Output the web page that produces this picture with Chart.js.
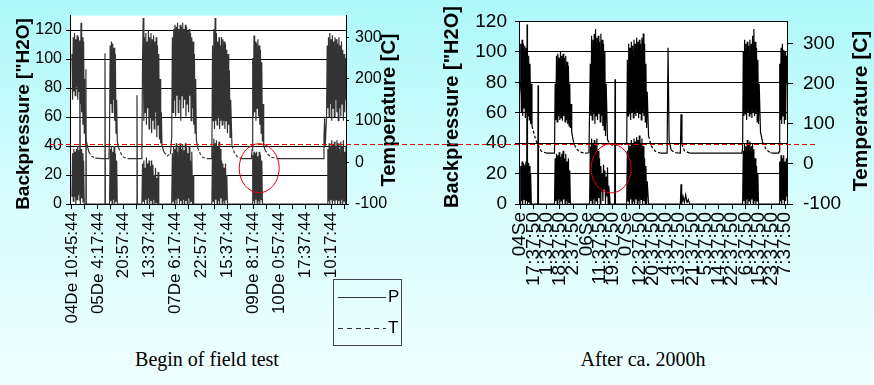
<!DOCTYPE html>
<html>
<head>
<meta charset="utf-8">
<script src="https://cdn.jsdelivr.net/npm/chart.js@4"></script>
<style>
  html, body { margin: 0; padding: 0; }
  body {
    width: 874px; height: 385px; position: relative; overflow: hidden;
    background: linear-gradient(to bottom, #adf8fa 0%, #d6fdfd 50%, #f0ffff 100%);
    font-family: Arial, "Liberation Sans", sans-serif;
  }
  canvas { position: absolute; top: 0; }
  #leftChart { left: 0; }
  #rightChart { left: 420px; }
  #refLine {
    position: absolute; left: 50px; top: 144px; width: 765px; height: 1px;
    background: repeating-linear-gradient(to right, #e00000 0 5px, transparent 5px 8px);
  }
  #legend {
    position: absolute; left: 333px; top: 279px; width: 69px; height: 67px;
    border: 1px solid #444; box-sizing: border-box;
  }
  #legend .row { position: absolute; left: 4px; height: 20px; display: flex; align-items: center; font-size: 17px; color: #000; }
  #legend .swatch { width: 48px; height: 1px; margin-right: 2px; }
  #legend .solid { background: #333; }
  #legend .dashed { background: repeating-linear-gradient(to right, #333 0 5px, transparent 5px 9px); }
  .caption {
    position: absolute; top: 348px; transform: translateX(-50%); white-space: nowrap;
    font: 20px "Times New Roman", "Liberation Serif", serif; color: #000;
  }
</style>
</head>
<body>
<canvas id="leftChart" width="420" height="345"></canvas>
<canvas id="rightChart" width="454" height="345"></canvas>
<div id="refLine"></div>
<div id="legend">
  <div class="row" style="top:7px"><span class="swatch solid"></span><span>P</span></div>
  <div class="row" style="top:38px"><span class="swatch dashed"></span><span>T</span></div>
</div>
<div class="caption" style="left:207px">Begin of field test</div>
<div class="caption" style="left:643px">After ca. 2000h</div>

<script>
// ---------------------------------------------------------------------
// data: x in tick steps, P in "H2O, T in C
// ---------------------------------------------------------------------
var LEFT_X_LABELS = ["04De 10:45:44", "05De 4:17:44", "20:57:44", "13:37:44", "07De 6:17:44", "22:57:44",
  "15:37:44", "09De 8:17:44", "10De 0:57:44", "17:37:44", "10:17:44"];
var RIGHT_X_LABELS = ["04Se", "17:37:50", "1:37:50", "18:37:50", "2:37:50", "06Se", "11:37:50", "19:37:50",
  "07Se", "12:37:50", "20:37:50", "4:37:50", "13:37:50", "21:37:50", "5:37:50", "14:37:50", "22:37:50",
  "6:37:50", "15:37:50", "23:37:50", "7:37:50"];
var P_TICKS = [0, 20, 40, 60, 80, 100, 120];
var T_TICKS = [-100, 0, 100, 200, 300];

var LEFT_P = [
  [0,5],[0.05,35],[0.1,2],[0.15,38],[0.2,5],[0.25,36],[0.3,0],[0.35,38],[0.4,3],[0.45,40],[0.5,6],[0.55,37],
  [0.6,2],[0.62,113],[0.65,0],[0.7,38],[0.75,4],[0.8,35],[0.85,1],[0.9,30],[0.95,0],
  [1.05,0],[1.08,93],[1.11,0],[2.52,0],[2.55,104],[2.58,0],
  [2.9,0],[2.95,38],[3.0,2],[3.05,40],[3.1,0],[3.15,36],[3.2,3],[3.25,40],[3.3,0],[3.35,35],[3.4,2],[3.45,30],[3.5,0],
  [4.99,0],[5.02,75],[5.05,0],
  [5.4,0],[5.45,28],[5.5,2],[5.55,30],[5.6,0],[5.65,25],[5.7,3],[5.75,32],[5.8,0],[5.85,28],[5.9,4],[5.95,30],
  [6.0,0],[6.05,26],[6.1,2],[6.15,30],[6.2,0],[6.25,27],[6.3,3],[6.35,20],[6.4,0],[6.45,25],[6.5,1],[6.55,18],
  [6.6,0],[6.65,22],[6.7,0],
  [7.7,0],[7.75,35],[7.8,2],[7.85,40],[7.9,0],[7.95,38],[8.0,3],[8.05,42],[8.1,0],[8.15,36],[8.2,4],[8.25,40],
  [8.3,0],[8.35,42],[8.4,2],[8.45,38],[8.5,0],[8.55,41],[8.6,3],[8.65,37],[8.7,0],[8.75,42],[8.8,2],[8.85,39],
  [8.9,0],[8.95,35],[9.0,4],[9.05,40],[9.1,0],[9.15,30],[9.2,2],[9.25,36],[9.3,0],[9.35,20],[9.4,0],
  [10.8,0],[10.85,40],[10.9,2],[10.95,45],[11.0,0],[11.05,42],[11.1,3],[11.15,44],[11.2,0],[11.25,40],[11.3,2],
  [11.35,43],[11.4,0],[11.45,38],[11.5,4],[11.55,30],[11.6,0],[11.65,28],[11.7,2],[11.75,25],[11.8,0],[11.85,28],
  [11.9,3],[11.95,20],[12.0,0],
  [13.9,0],[13.95,34],[14.0,2],[14.05,36],[14.1,0],[14.15,35],[14.2,3],[14.25,36],[14.3,0],[14.35,33],[14.4,2],
  [14.45,36],[14.5,0],[14.55,34],[14.6,3],[14.65,30],[14.7,0],
  [19.7,0],[19.75,38],[19.8,2],[19.85,42],[19.9,0],[19.95,40],[20.0,3],[20.05,44],[20.1,0],[20.15,41],[20.2,2],
  [20.25,43],[20.3,0],[20.35,40],[20.4,3],[20.45,44],[20.5,0],[20.55,42],[20.6,2],[20.65,38],[20.7,0],[20.75,43],
  [20.8,3],[20.85,40],[20.9,0],[20.95,44],[21.0,2],[21.05,36],[21.1,0],[21.15,40]
];

var LEFT_T = [
  [0,260],[0.05,150],[0.1,300],[0.15,170],[0.2,310],[0.25,160],[0.3,295],[0.35,180],[0.4,305],[0.45,150],
  [0.5,300],[0.55,170],[0.6,290],[0.65,140],[0.7,335],[0.75,120],[0.8,300],[0.85,90],[0.9,290],[0.95,70],
  [1.0,200],[1.05,55],[1.1,40],[1.15,45],[1.3,25],[1.5,15],[1.8,10],[2.35,9],
  [2.85,9],[2.9,60],[2.95,280],[3.0,140],[3.05,290],[3.1,120],[3.15,285],[3.2,150],[3.25,275],[3.3,100],
  [3.35,260],[3.4,70],[3.45,150],[3.5,50],[3.6,35],[3.8,20],[4.0,12],[4.3,9],[5.35,9],
  [5.4,40],[5.45,250],[5.5,346],[5.55,100],[5.6,300],[5.65,120],[5.7,310],[5.75,90],[5.8,290],[5.85,130],
  [5.9,318],[5.95,80],[6.0,300],[6.05,110],[6.1,310],[6.15,70],[6.2,295],[6.25,100],[6.3,305],[6.35,80],
  [6.4,290],[6.45,120],[6.5,300],[6.55,60],[6.6,280],[6.65,90],[6.7,260],[6.75,55],[6.8,200],[6.85,45],
  [6.9,120],[6.95,40],[7.1,25],[7.35,15],[7.6,20],
  [7.7,60],[7.75,300],[7.8,120],[7.85,320],[7.9,150],[7.95,330],[8.0,110],[8.05,325],[8.1,160],[8.15,335],
  [8.2,120],[8.25,320],[8.3,150],[8.35,330],[8.4,100],[8.45,325],[8.5,160],[8.55,335],[8.6,130],[8.65,320],
  [8.7,150],[8.75,330],[8.8,110],[8.85,325],[8.9,140],[8.95,315],[9.0,120],[9.05,320],[9.1,160],[9.15,310],
  [9.2,100],[9.25,300],[9.3,130],[9.35,290],[9.4,90],[9.45,260],[9.5,70],[9.55,200],[9.6,55],
  [9.7,35],[9.9,20],[10.1,12],[10.4,9],[10.75,9],
  [10.8,20],[10.85,280],[10.9,100],[10.95,320],[11.0,80],[11.05,346],[11.1,100],[11.15,310],[11.2,90],
  [11.25,290],[11.3,110],[11.35,300],[11.4,80],[11.45,280],[11.5,100],[11.55,300],[11.6,90],[11.65,295],
  [11.7,100],[11.75,290],[11.8,80],[11.85,285],[11.9,100],[11.95,270],[12.0,70],[12.05,260],[12.1,90],
  [12.15,220],[12.2,60],[12.25,150],[12.35,40],[12.55,22],[12.8,12],[13.1,9],[13.85,9],
  [13.9,30],[13.95,250],[14.0,110],[14.05,304],[14.1,120],[14.15,290],[14.2,100],[14.25,285],[14.3,130],
  [14.35,295],[14.4,110],[14.45,280],[14.5,90],[14.55,270],[14.6,70],[14.65,240],[14.7,50],[14.75,140],
  [14.8,40],[14.9,30],[15.1,20],[15.4,12],[15.8,9],[19.4,9],
  [19.45,60],[19.5,105],[19.55,40],[19.65,110],[19.7,280],[19.75,130],[19.8,300],[19.85,110],[19.9,310],
  [19.95,140],[20.0,295],[20.05,100],[20.1,305],[20.15,130],[20.2,290],[20.25,110],[20.3,300],[20.35,150],
  [20.4,295],[20.45,120],[20.5,285],[20.55,100],[20.6,300],[20.65,130],[20.7,280],[20.75,110],[20.8,290],
  [20.85,140],[20.9,270],[20.95,100],[21.0,260],[21.05,120],[21.1,250],[21.15,150]
];

var RIGHT_P = [
  [-0.08,0],[0,0],[0.05,25],[0.1,2],[0.15,28],[0.2,0],[0.25,27],[0.3,3],[0.35,26],[0.4,0],[0.45,28],[0.5,2],
  [0.53,118],[0.56,0],[0.6,27],[0.65,1],[0.7,25],[0.75,0],[0.8,20],[0.85,0],
  [1.33,0],[1.36,78],[1.39,0],
  [2.6,0],[2.65,30],[2.7,2],[2.75,33],[2.8,0],[2.85,32],[2.9,3],[2.95,34],[3.0,0],[3.05,31],[3.1,2],[3.15,33],
  [3.2,0],[3.25,35],[3.3,3],[3.35,30],[3.4,0],[3.45,33],[3.5,2],[3.55,28],[3.6,0],[3.65,30],[3.7,1],[3.75,22],
  [3.8,0],
  [5.25,0],[5.3,38],[5.35,2],[5.4,43],[5.45,0],[5.5,40],[5.55,3],[5.6,42],[5.65,0],[5.7,39],[5.75,2],[5.8,43],
  [5.85,0],[5.9,35],[5.95,4],[6.0,30],[6.05,0],[6.1,25],[6.15,8],[6.2,20],[6.25,2],[6.3,26],[6.35,10],[6.4,22],
  [6.45,0],[6.5,18],[6.55,5],[6.6,24],[6.65,0],[6.7,12],[6.8,0],
  [7.14,0],[7.17,82],[7.2,0],
  [8.05,0],[8.1,35],[8.15,2],[8.2,40],[8.25,0],[8.3,38],[8.35,3],[8.4,42],[8.45,0],[8.5,40],[8.55,2],[8.6,43],
  [8.65,0],[8.7,41],[8.75,3],[8.8,44],[8.85,0],[8.9,42],[8.95,2],[9.0,45],[9.05,0],[9.1,40],[9.15,3],[9.2,43],
  [9.25,0],[9.3,38],[9.35,2],[9.4,30],[9.45,0],[9.5,25],[9.55,0],[9.6,15],[9.7,0],
  [12.1,0],[12.15,13],[12.2,0],[12.3,5],[12.4,1],[12.5,6],[12.6,1],[12.7,3],[12.8,0],
  [16.8,0],[16.85,35],[16.9,2],[16.95,40],[17.0,0],[17.05,38],[17.1,3],[17.15,42],[17.2,0],[17.25,40],[17.3,2],
  [17.35,41],[17.4,0],[17.45,38],[17.5,3],[17.55,40],[17.6,0],[17.65,36],[17.7,2],[17.75,30],[17.8,0],[17.85,25],
  [17.9,2],[17.95,20],[18.0,0],
  [19.55,0],[19.6,28],[19.65,2],[19.7,32],[19.75,0],[19.8,30],[19.85,3],[19.9,32],[19.95,0],[20.0,28],[20.05,2],
  [20.1,30],[20.15,5]
];

var RIGHT_T = [
  [-0.08,150],[0,200],[0.05,300],[0.1,130],[0.15,310],[0.2,120],[0.25,300],[0.3,140],[0.35,295],[0.4,115],
  [0.45,290],[0.5,130],[0.55,280],[0.6,120],[0.65,270],[0.7,110],[0.75,250],[0.8,100],[0.85,200],[0.9,95],
  [1.1,70],[1.3,50],[1.6,32],[2.0,27],[2.6,27],
  [2.65,200],[2.7,110],[2.75,270],[2.8,105],[2.85,275],[2.9,120],[2.95,265],[3.0,110],[3.05,280],[3.1,115],
  [3.15,270],[3.2,108],[3.25,275],[3.3,120],[3.35,265],[3.4,105],[3.45,270],[3.5,110],[3.55,255],[3.6,100],
  [3.65,245],[3.7,95],[3.75,200],[3.8,90],[3.85,150],[3.9,80],[4.0,60],[4.2,40],[4.5,30],[4.9,27],[5.2,28],
  [5.3,250],[5.35,120],[5.4,320],[5.45,110],[5.5,310],[5.55,125],[5.6,325],[5.65,100],[5.7,337],[5.75,120],
  [5.8,315],[5.85,110],[5.9,320],[5.95,125],[6.0,305],[6.05,105],[6.1,325],[6.15,120],[6.2,310],[6.25,95],
  [6.3,300],[6.35,85],[6.4,280],[6.45,70],[6.5,200],[6.6,60],[6.8,50],[7.1,45],[7.4,50],[7.8,48],
  [8.05,50],[8.1,260],[8.15,120],[8.2,300],[8.25,125],[8.3,290],[8.35,110],[8.4,305],[8.45,130],[8.5,295],
  [8.55,115],[8.6,310],[8.65,125],[8.7,300],[8.75,120],[8.8,315],[8.85,130],[8.9,305],[8.95,115],[9.0,310],
  [9.05,125],[9.1,300],[9.15,110],[9.2,315],[9.25,130],[9.3,326],[9.35,120],[9.4,300],[9.45,105],[9.5,250],
  [9.55,90],[9.6,180],[9.7,70],[9.9,45],[10.2,32],[10.6,27],
  [11.1,27],[11.17,290],[11.25,60],[11.4,35],[11.7,28],[12.1,27],[12.15,124],[12.22,50],[12.4,33],[12.8,27],
  [16.75,27],
  [16.8,40],[16.85,280],[16.9,120],[16.95,310],[17.0,125],[17.05,300],[17.1,110],[17.15,305],[17.2,130],
  [17.25,295],[17.3,120],[17.35,310],[17.4,125],[17.45,300],[17.5,115],[17.55,320],[17.6,130],[17.65,337],
  [17.7,120],[17.75,305],[17.8,125],[17.85,290],[17.9,105],[17.95,260],[18.0,100],[18.05,200],[18.15,80],
  [18.3,55],[18.6,35],[18.9,28],[19.1,27],[19.5,27],
  [19.55,30],[19.6,250],[19.65,110],[19.7,290],[19.75,100],[19.8,300],[19.85,120],[19.9,285],[19.95,100],
  [20.0,280],[20.05,110],[20.1,270],[20.15,200]
];

// ---------------------------------------------------------------------
var INK = "#000";
var FONT = "Arial, 'Liberation Sans', sans-serif";
Chart.defaults.font.family = FONT;
Chart.defaults.color = INK;

// white plot area, red ellipse marking, axis titles reading bottom-to-top
var decorPlugin = {
  id: "decor",
  beforeDraw: function (chart) {
    var a = chart.chartArea, ctx = chart.ctx;
    ctx.save();
    ctx.fillStyle = "#fff";
    ctx.fillRect(a.left, a.top, a.right - a.left, a.bottom - a.top);
    ctx.restore();
  },
  afterDraw: function (chart, args, opts) {
    var ctx = chart.ctx;
    ctx.save();
    if (opts.ellipse) {
      var e = opts.ellipse;
      var cx = chart.scales.x.getPixelForValue(e.x);
      var cy = chart.scales.y.getPixelForValue(e.y);
      ctx.strokeStyle = "#e00000";
      ctx.lineWidth = 1;
      ctx.beginPath();
      ctx.ellipse(cx, cy, e.rx, e.ry, 0, 0, Math.PI * 2);
      ctx.stroke();
    }
    ctx.fillStyle = INK;
    ctx.textAlign = "center";
    ctx.textBaseline = "middle";
    (opts.titles || []).forEach(function (t) {
      ctx.save();
      ctx.font = "bold " + t.size + "px " + FONT;
      ctx.translate(t.x, t.y);
      ctx.rotate(-Math.PI / 2);
      ctx.fillText(t.text, 0, 0);
      ctx.restore();
    });
    ctx.restore();
  }
};

function toXY(pairs) {
  return pairs.map(function (p) { return { x: p[0], y: p[1] }; });
}

function fixedTicks(values) {
  return function (scale) {
    scale.ticks = values.map(function (v) { return { value: v }; });
  };
}

// the dense oscillations print as solid ink; only the slow cool-down runs show the dash
function decayDash(ctx) {
  var dx = Math.abs(ctx.p1.x - ctx.p0.x), dy = Math.abs(ctx.p1.y - ctx.p0.y);
  return (dx > 2 && dy > 0.5) ? [3, 2] : undefined;
}

function buildPanel(canvasId, cfg) {
  return new Chart(document.getElementById(canvasId), {
    type: "line",
    data: {
      datasets: [
        { label: "P", data: toXY(cfg.p), yAxisID: "y", borderColor: cfg.ink, borderWidth: 1.2, pointRadius: 0, tension: 0 },
        { label: "T", data: toXY(cfg.t), yAxisID: "y1", borderColor: cfg.ink, borderWidth: 1.2, pointRadius: 0, tension: 0,
          segment: { borderDash: decayDash } }
      ]
    },
    options: {
      responsive: false,
      animation: false,
      events: [],
      layout: { padding: { top: cfg.top, left: 0, right: 0, bottom: 0 } },
      plugins: {
        legend: { display: false },
        tooltip: { enabled: false },
        decor: { ellipse: cfg.ellipse, titles: cfg.titles }
      },
      scales: {
        x: {
          type: "linear", min: cfg.xMin, max: cfg.xMax,
          afterBuildTicks: fixedTicks(cfg.xTicks),
          afterFit: function (s) { s.height = cfg.xHeight; },
          grid: { drawOnChartArea: false, color: INK, tickLength: 5 },
          border: { color: INK },
          ticks: {
            autoSkip: false, minRotation: 90, maxRotation: 90, padding: 3, font: { size: cfg.xFont }, color: INK,
            callback: cfg.xLabel
          }
        },
        y: {
          position: "left", min: 0, max: cfg.pMax,
          afterBuildTicks: fixedTicks(P_TICKS),
          afterFit: function (s) { s.width = cfg.yWidth; },
          grid: { color: INK, tickLength: 4 },
          border: { color: INK },
          ticks: { padding: cfg.yPad, font: { size: cfg.yFont }, color: INK }
        },
        y1: {
          position: "right", min: -100, max: cfg.tMax,
          afterBuildTicks: fixedTicks(T_TICKS),
          afterFit: function (s) { s.width = cfg.y1Width; },
          grid: { drawOnChartArea: false, color: INK, tickLength: cfg.y1Tick },
          border: { color: INK },
          ticks: { padding: cfg.y1Pad, font: { size: cfg.yFont }, color: INK }
        }
      }
    },
    plugins: [decorPlugin]
  });
}

var leftTicks = [];
for (var i = 0; i <= 21; i++) leftTicks.push(i);
var rightTicks = RIGHT_X_LABELS.map(function (l, i) { return i; });

buildPanel("leftChart", {
  p: LEFT_P, t: LEFT_T, ink: "#333",
  top: 12, xMin: -0.15, xMax: 21.15, xHeight: 141, yWidth: 70, y1Width: 74,
  pMax: 130, tMax: 352, xFont: 17, yFont: 16, yPad: 4, y1Pad: 6, y1Tick: 3,
  xTicks: leftTicks,
  xLabel: function (v) { return v % 2 === 0 ? LEFT_X_LABELS[v / 2] : ""; },
  ellipse: { x: 14.45, y: 24.7, rx: 20, ry: 24.5 },
  titles: [
    { text: "Backpressure [\"H2O]", x: 24, y: 114, size: 19 },
    { text: "Temperature [C]", x: 389, y: 110, size: 20 }
  ]
});

buildPanel("rightChart", {
  p: RIGHT_P, t: RIGHT_T, ink: "#000",
  top: 17, xMin: -0.08, xMax: 20.15, xHeight: 141, yWidth: 99, y1Width: 87,
  pMax: 120, tMax: 356, xFont: 19, yFont: 19, yPad: 8, y1Pad: 10, y1Tick: 6,
  xTicks: rightTicks,
  xLabel: function (v) { return RIGHT_X_LABELS[v]; },
  ellipse: { x: 6.87, y: 23.4, rx: 20, ry: 24.5 },
  titles: [
    { text: "Backpressure [\"H2O]", x: 32, y: 107, size: 20 },
    { text: "Temperature [C]", x: 441, y: 111, size: 21 }
  ]
});
</script>
</body>
</html>
